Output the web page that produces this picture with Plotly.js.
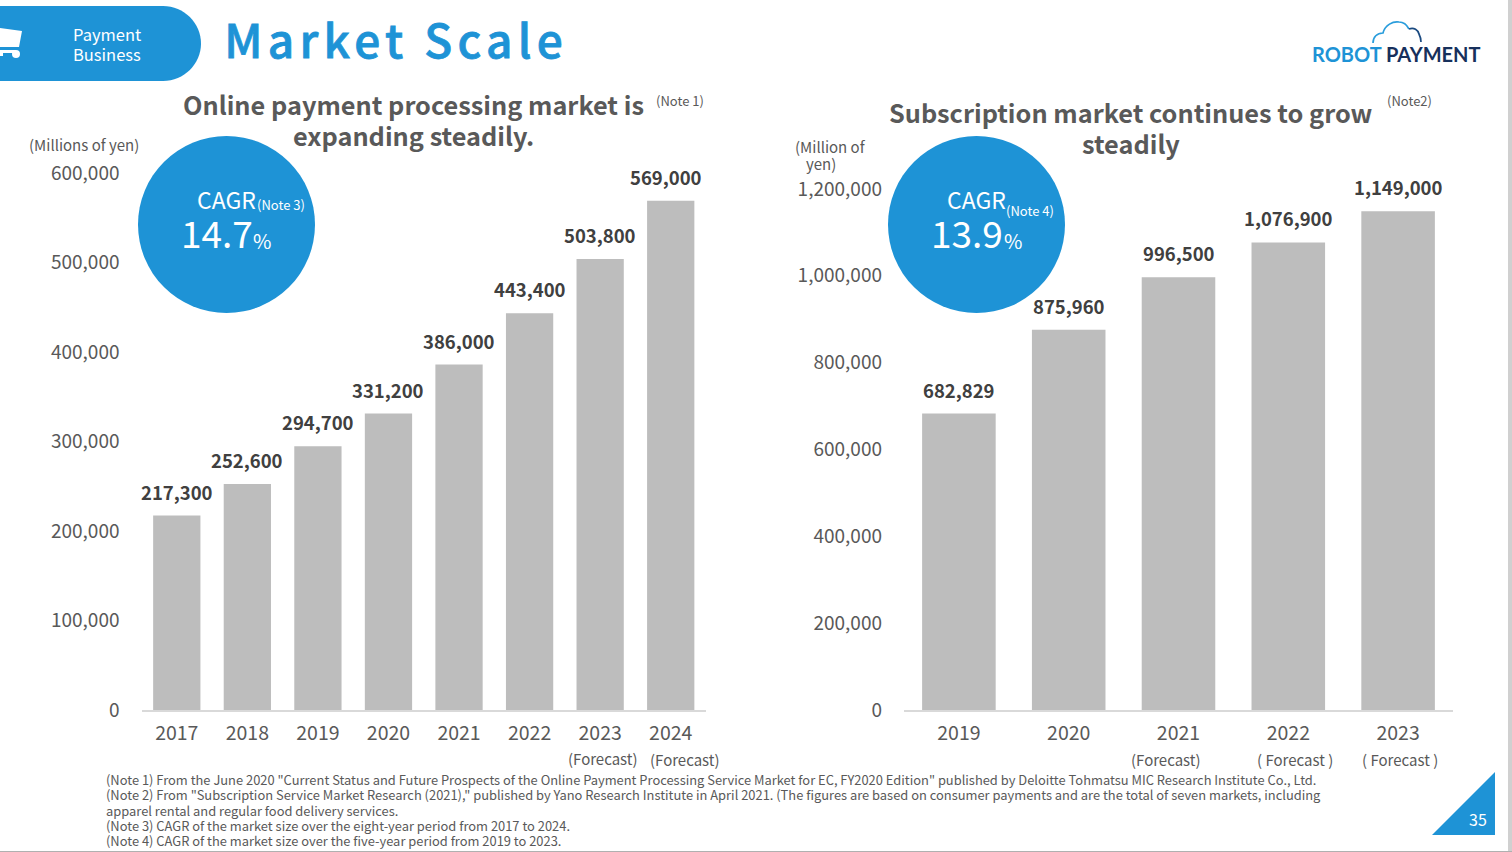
<!DOCTYPE html>
<html><head><meta charset="utf-8">
<script src="https://cdn.plot.ly/plotly-3.0.1.min.js"></script>
<style>html,body{margin:0;padding:0;background:#fff;overflow:hidden}#c{width:1512px;height:852px}</style>
</head><body><div id="c"></div>
<script>
const onlineYears = ['2017','2018','2019','2020','2021','2022','2023','2024'];
const onlineValues = [217300,252600,294700,331200,386000,443400,503800,569000];
const subYears = ['2019','2020','2021','2022','2023'];
const subValues = [682829,875960,996500,1076900,1149000];
const onlineTicks = [0,100000,200000,300000,400000,500000,600000];
const subTicks = [0,200000,400000,600000,800000,1000000,1200000];
const noteLines = [
 '(Note 1) From the June 2020 "Current Status and Future Prospects of the Online Payment Processing Service Market for EC, FY2020 Edition" published by Deloitte Tohmatsu MIC Research Institute Co., Ltd.',
 '(Note 2) From "Subscription Service Market Research (2021)," published by Yano Research Institute in April 2021. (The figures are based on consumer payments and are the total of seven markets, including',
 'apparel rental and regular food delivery services.',
 '(Note 3) CAGR of the market size over the eight-year period from 2017 to 2024.',
 '(Note 4) CAGR of the market size over the five-year period from 2019 to 2023.'
];
const W=1512,H=852;
const FONT='"Noto Sans CJK JP","Noto Sans",sans-serif';
const BLUE='#1e93d6',GREY='#bdbdbd',TXT='#595959',DARK='#404040';
const px=x=>x/W, py=y=>1-y/H;
const fmt=v=>v.toLocaleString('en-US');
function path(cmds){
  return cmds.map(c=>{ if(c==='Z')return 'Z'; const [k,...n]=c; let s=k;
    for(let i=0;i<n.length;i+=2){s+=(i?' ':'')+px(n[i])+','+py(n[i+1]);} return s;}).join(' ');
}
const fill=(p,color)=>({type:'path',xref:'paper',yref:'paper',path:path(p),fillcolor:color,line:{width:0},layer:'above'});
const stroke=(p,color)=>({type:'path',xref:'paper',yref:'paper',path:path(p),line:{color,width:1.7},layer:'above'});
const circle=(cx,cy,r,color)=>({type:'circle',xref:'paper',yref:'paper',x0:px(cx-r),x1:px(cx+r),y0:py(cy+r),y1:py(cy-r),fillcolor:color,line:{width:0},layer:'above'});
function T(x,y,text,size,color,o){return Object.assign({xref:'paper',yref:'paper',x:px(x),y:py(y),text,showarrow:false,xanchor:'center',yanchor:'middle',borderpad:0,
  font:{family:FONT,size,color}},o||{});}
const B=(x,y,text,size)=>T(x,y,text,size,TXT,{font:{family:FONT,size,color:TXT,weight:700}});
const bar=(x,y,xa,ya)=>({type:'bar',x,y,xaxis:xa,yaxis:ya,marker:{color:GREY,line:{width:0}},hoverinfo:'x+y',showlegend:false});
const xax=(d,n)=>({domain:[px(d[0]),px(d[1])],type:'category',range:[-0.5,n-0.5],autorange:false,showgrid:false,zeroline:false,showline:true,linecolor:'#d9d9d9',linewidth:2,ticks:'',ticklabelstandoff:5,tickfont:{family:FONT,size:19.5,color:TXT}});
const yax=(top,max,ticks)=>({domain:[py(710),py(top)],range:[0,max],showgrid:false,zeroline:false,showline:false,ticks:'',tickmode:'array',tickvals:ticks,ticktext:ticks.map(fmt),ticklabelstandoff:21,tickfont:{family:FONT,size:19,color:TXT}});

const anns=[];
const lab=(xa,ya,i,v,shift)=>({xref:xa,yref:ya,x:i,y:v,text:fmt(v),showarrow:false,yanchor:'bottom',yshift:9,xshift:shift,font:{family:FONT,size:18.5,color:DARK,weight:700}});
onlineValues.forEach((v,i)=>anns.push(lab('x','y',i,v,i===onlineValues.length-1?-5:0)));
subValues.forEach((v,i)=>anns.push(lab('x2','y2',i,v,0)));
anns.push(
 T(107,34,'Payment',16.5,'#fff'),T(107,54,'Business',16.5,'#fff'),
 T(396.5,38,'Market Scale',46,BLUE,{font:{family:FONT,size:46,color:BLUE,weight:500}}),
 B(413,104,'Online payment processing market is',25.3),
 B(413,135,'expanding steadily.',25.3),
 T(680,101,'(Note 1)',13,TXT),
 T(84,145,'(Millions of yen)',15,TXT),
 B(1131,112,'Subscription market continues to grow',25.3),
 B(1131,143,'steadily',25.3),
 T(1409,101,'(Note2)',13,TXT),
 T(830,146,'(Million of',15,TXT),T(821,163,'yen)',15,TXT),
 T(226,199,'CAGR',23,'#fff'),T(281,205,'(Note 3)',13,'#fff'),
 T(217,232,'14.7',37,'#fff'),T(262,240,'%',20,'#fff'),
 T(976,199,'CAGR',23,'#fff'),T(1030,210,'(Note 4)',13,'#fff'),
 T(967,232,'13.9',37,'#fff'),T(1013,240,'%',20,'#fff'),
 T(603,758,'(Forecast)',15,TXT),T(685,759,'(Forecast)',15,TXT),
 T(1166,759,'(Forecast)',15,TXT),T(1295,759,'( Forecast )',15,TXT),T(1400,759,'( Forecast )',15,TXT),
 T(1478,819,'35',16,'#fff'),
 T(1311,54,'<span style="color:#1e93d6">ROBOT</span> <span style="color:#17305c">PAYMENT</span>',20,'#17305c',{xanchor:'left',font:{family:'"Lato",sans-serif',size:20,color:'#17305c',weight:700}})
);
[779,794,810,825,840].forEach((y,i)=>anns.push(T(105,y,noteLines[i],12.9,TXT,{xanchor:'left',align:'left'})));

const shapes=[
 fill([['M',0,6],['L',163,6],['C',184,6,201,23,201,43.5],['C',201,64,184,81,163,81],['L',0,81],'Z'],BLUE),
 fill([['M',0,28],['L',22,31],['L',19,47],['L',0,47],'Z'],'#fff'),
 fill([['M',0,50],['L',16,50],['L',16,53],['L',3,53],['L',3,56],['L',0,56],'Z'],'#fff'),
 circle(16,54,4,'#fff'),
 circle(226.5,224.5,88.5,BLUE),circle(976.5,224.5,88.5,BLUE),
 fill([['M',1432,835],['L',1495,772],['L',1495,835],'Z'],BLUE),
 fill([['M',1508,0],['L',1512,0],['L',1512,852],['L',1508,852],'Z'],'#d0d0d0'),
 fill([['M',0,851],['L',1512,851],['L',1512,852],['L',0,852],'Z'],'#b0b0b0'),
 stroke([['M',1373,43],['C',1373,37,1377,33,1383,33],['C',1385,25,1393,21,1399,22],['C',1403,22,1407,25,1409,29]],'#2a9ddc'),
 stroke([['M',1409,29],['C',1414,27,1418,30,1419,34],['C',1420,36,1421,39,1421,42]],'#1a4a80')
];

const layout={width:W,height:H,margin:{l:0,r:0,t:0,b:0,pad:0},paper_bgcolor:'#fff',plot_bgcolor:'rgba(0,0,0,0)',
 bargap:0.33,showlegend:false,font:{family:FONT,color:TXT},
 xaxis:xax([141.5,706],onlineYears.length),yaxis:yax(173,600000,onlineTicks),
 xaxis2:Object.assign(xax([904,1453],subYears.length),{anchor:'y2'}),yaxis2:Object.assign(yax(189,1200000,subTicks),{anchor:'x2'}),
 annotations:anns,shapes};
Plotly.newPlot('c',[bar(onlineYears,onlineValues,'x','y'),bar(subYears,subValues,'x2','y2')],layout,{displayModeBar:false,responsive:false}).then(()=>{
 document.querySelectorAll('.annotation-text').forEach(t=>{if(t.textContent==='Market Scale'){t.style.letterSpacing='5.3px';t.style.stroke=BLUE;t.style.strokeWidth='0.8px';}});
});
</script></body></html>
